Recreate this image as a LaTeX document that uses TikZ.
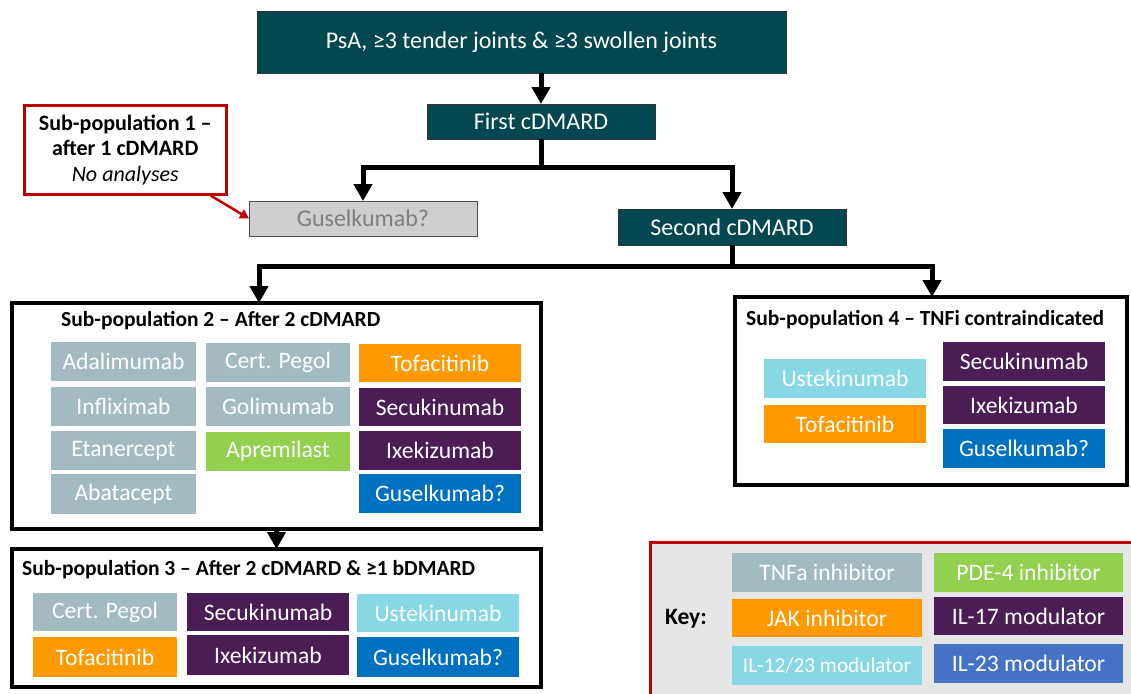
\documentclass[tikz,border=0pt]{standalone}
\usepackage{fontspec}
\setmainfont{Carlito}
\usetikzlibrary{arrows.meta}
\definecolor{darkteal}{HTML}{034751}
\definecolor{tnf}{HTML}{A3BBC0}
\definecolor{jak}{HTML}{FF9900}
\definecolor{ilseventeen}{HTML}{4C1C56}
\definecolor{gusblue}{HTML}{0070C0}
\definecolor{pde}{HTML}{92D050}
\definecolor{ustek}{HTML}{87D8E4}
\definecolor{keyblue}{HTML}{4472C4}
\definecolor{grayfill}{HTML}{D0CECE}
\definecolor{graytext}{HTML}{7F7F7F}
\definecolor{keybg}{HTML}{E7E6E6}
\definecolor{darkred}{HTML}{C00000}
\tikzset{
  dbox/.style={rectangle, anchor=north west, inner sep=0pt, outer sep=0pt, text=white,
    font=\fontsize{23.6}{28}\selectfont},
  tealbox/.style={dbox, fill=darkteal, draw=black!80, line width=0.8pt, font=\fontsize{24}{28}\selectfont},
  groupbox/.style={rectangle, anchor=north west, inner sep=0pt, outer sep=0pt, draw=black, line width=3.5pt, fill=white},
  grouptitle/.style={anchor=west, inner sep=0pt, font=\bfseries\fontsize{21.5}{25}\selectfont},
  conn/.style={line width=5pt, line join=miter, -{Triangle[width=18pt,length=17pt]}},
  redconn/.style={draw=darkred, line width=2.5pt, -{Triangle[width=10pt,length=9pt]}},
}
\newcommand\dbx[7]{\node[dbox, fill=#2, minimum width=#5pt, minimum height=#6pt] (#1) at (#3,#4) {#7};}
\begin{document}
\begin{tikzpicture}[x=1pt, y=-1pt]
\useasboundingbox (0,0) rectangle (1131,693);
\clip (0,0) rectangle (1131,693);
\fill[white] (0,0) rectangle (1131,693);

% top flow
\node[tealbox, minimum width=529pt, minimum height=62pt] (top) at (257,11) {PsA, ≥3 tender joints \& ≥3 swollen joints};
\node[tealbox, minimum width=228pt, minimum height=35pt] (first) at (427,104) {First cDMARD};
\node[dbox, fill=grayfill, draw=black!70, line width=0.8pt, text=graytext, minimum width=228pt, minimum height=35pt, font=\fontsize{24}{28}\selectfont] (gus1) at (249,201) {Guselkumab?};
\node[tealbox, minimum width=228pt, minimum height=36pt] (second) at (618,209) {Second cDMARD};

% sub-population 1
\node[rectangle, anchor=north west, draw=darkred, line width=2.5pt, fill=white, minimum width=202pt, minimum height=89pt, align=center, inner sep=0pt, font=\fontsize{22}{25.5}\selectfont] (sp1) at (23,104) {\textbf{Sub-population 1 –}\\\textbf{after 1 cDMARD}\\\textit{No analyses}};

% sub-population 2
\node[groupbox, minimum width=529pt, minimum height=226pt] (sp2) at (12,303) {};
\node[grouptitle] (sp2t) at (61,321) {Sub-population 2 – After 2 cDMARD};
\dbx{ada}{tnf}{51}{342}{145}{39}{Adalimumab}
\dbx{inf}{tnf}{51}{387}{145}{39}{Infliximab}
\dbx{eta}{tnf}{51}{431}{145}{39}{Etanercept}
\dbx{aba}{tnf}{51}{474}{145}{40}{Abatacept}
\dbx{cert}{tnf}{206}{343}{144}{39}{Cert. Pegol}
\dbx{goli}{tnf}{206}{387}{144}{39}{Golimumab}
\dbx{apre}{pde}{206}{432}{144}{39}{Apremilast}
\dbx{tofa}{jak}{359}{344}{162}{38}{Tofacitinib}
\dbx{secu}{ilseventeen}{359}{388}{162}{38}{Secukinumab}
\dbx{ixe}{ilseventeen}{359}{431}{162}{39}{Ixekizumab}
\dbx{gus2}{gusblue}{359}{474}{162}{39}{Guselkumab?}

% sub-population 3
\node[groupbox, minimum width=529pt, minimum height=138pt] (sp3) at (12,549) {};
\node[grouptitle] (sp3t) at (22,570) {Sub-population 3 – After 2 cDMARD \& ≥1 bDMARD};
\dbx{cert3}{tnf}{33}{593}{144}{38}{Cert. Pegol}
\dbx{tofa3}{jak}{33}{637}{144}{40}{Tofacitinib}
\dbx{secu3}{ilseventeen}{187}{593}{162}{38}{Secukinumab}
\dbx{ixe3}{ilseventeen}{187}{635}{162}{40}{Ixekizumab}
\dbx{ust3}{ustek}{357}{594}{162}{38}{Ustekinumab}
\dbx{gus3}{gusblue}{357}{637}{162}{40}{Guselkumab?}

% sub-population 4
\node[groupbox, minimum width=392pt, minimum height=188pt] (sp4) at (735,297) {};
\node[grouptitle] (sp4t) at (746,320) {Sub-population 4 – TNFi contraindicated};
\dbx{ust4}{ustek}{764}{359}{162}{39}{Ustekinumab}
\dbx{tofa4}{jak}{764}{405}{162}{38}{Tofacitinib}
\dbx{secu4}{ilseventeen}{943}{342}{162}{39}{Secukinumab}
\dbx{ixe4}{ilseventeen}{943}{386}{162}{38}{Ixekizumab}
\dbx{gus4}{gusblue}{943}{429}{162}{39}{Guselkumab?}

% key
\node[rectangle, anchor=north west, draw=darkred, fill=keybg, line width=2.5pt, minimum width=540pt, minimum height=180pt, inner sep=0pt] (key) at (649,541) {};
\node[anchor=center, inner sep=0pt, font=\bfseries\fontsize{23.5}{27}\selectfont] (keyt) at (686,619) {Key:};
\dbx{k1}{tnf}{732}{553}{190}{39}{TNFa inhibitor}
\dbx{k2}{jak}{732}{599}{190}{38}{JAK inhibitor}
\node[dbox, fill=ustek, minimum width=190pt, minimum height=39pt, font=\fontsize{21.3}{25}\selectfont] (k3) at (732,646) {IL-12/23 modulator};
\dbx{k4}{pde}{934}{553}{189}{39}{PDE-4 inhibitor}
\dbx{k5}{ilseventeen}{934}{597}{189}{38}{IL-17 modulator}
\dbx{k6}{keyblue}{934}{644}{189}{39}{IL-23 modulator}

% connectors
\coordinate (b1) at (541,167);
\coordinate (b2) at (732,266);
\draw[conn] (first.north |- top.south) -- (first.north);
\draw[conn] (first.south) -- (b1) -| (gus1.north);
\draw[conn] (first.south) -- (b1) -| (second.north);
\draw[conn] (second.south) -- (b2) -| ([xshift=247pt]sp2.north west);
\draw[conn] (second.south) -- (b2) -| ([xshift=197pt]sp4.north west);
\draw[conn] (sp2.south) -- (sp3.north);
\draw[redconn] ([xshift=-17pt]sp1.south east) -- (gus1.west);
\end{tikzpicture}
\end{document}
